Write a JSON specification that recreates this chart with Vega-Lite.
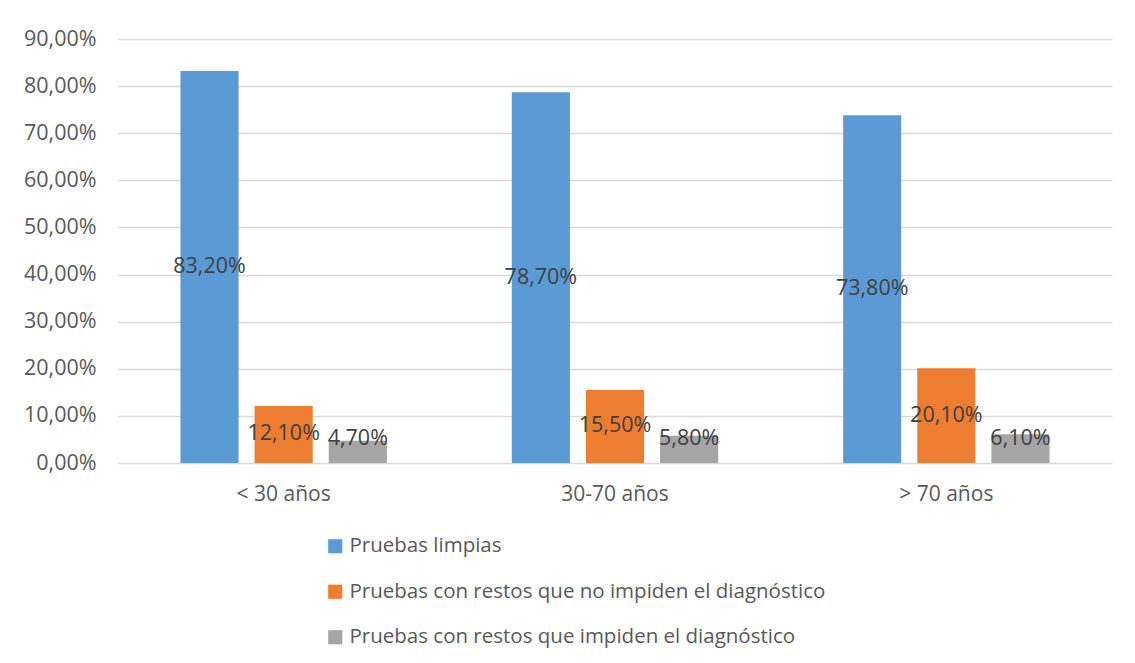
{
  "$schema": "https://vega.github.io/schema/vega-lite/v6.json",
  "autosize": "none",
  "width": 994,
  "height": 424,
  "padding": {"left": 118, "top": 39, "right": 23, "bottom": 200},
  "background": "white",
  "data": {
    "values": [
      {"grupo": "< 30 años", "serie": "Pruebas limpias", "orden": 1, "valor": 83.2},
      {"grupo": "< 30 años", "serie": "Pruebas con restos que no impiden el diagnóstico", "orden": 2, "valor": 12.1},
      {"grupo": "< 30 años", "serie": "Pruebas con restos que impiden el diagnóstico", "orden": 3, "valor": 4.7},
      {"grupo": "30-70 años", "serie": "Pruebas limpias", "orden": 1, "valor": 78.7},
      {"grupo": "30-70 años", "serie": "Pruebas con restos que no impiden el diagnóstico", "orden": 2, "valor": 15.5},
      {"grupo": "30-70 años", "serie": "Pruebas con restos que impiden el diagnóstico", "orden": 3, "valor": 5.8},
      {"grupo": "> 70 años", "serie": "Pruebas limpias", "orden": 1, "valor": 73.8},
      {"grupo": "> 70 años", "serie": "Pruebas con restos que no impiden el diagnóstico", "orden": 2, "valor": 20.1},
      {"grupo": "> 70 años", "serie": "Pruebas con restos que impiden el diagnóstico", "orden": 3, "valor": 6.1}
    ]
  },
  "transform": [
    {"calculate": "max(datum.valor / 2, 5)", "as": "posEtiqueta"},
    {"calculate": "replace(format(datum.valor, '.2f'), '.', ',') + '%'", "as": "etiqueta"}
  ],
  "encoding": {
    "x": {
      "field": "grupo",
      "type": "nominal",
      "sort": ["< 30 años", "30-70 años", "> 70 años"],
      "scale": {"paddingInner": 0.377, "paddingOuter": 0.1885},
      "axis": {
        "title": null,
        "labelAngle": 0,
        "labelFont": "Open Sans",
        "labelFontSize": 21,
        "labelColor": "#595959",
        "labelPadding": 20,
        "ticks": false,
        "domain": false,
        "grid": false
      }
    },
    "xOffset": {
      "field": "serie",
      "type": "nominal",
      "sort": ["Pruebas limpias", "Pruebas con restos que no impiden el diagnóstico", "Pruebas con restos que impiden el diagnóstico"],
      "scale": {"paddingInner": 0.216, "paddingOuter": 0}
    }
  },
  "layer": [
    {
      "mark": {"type": "bar"},
      "encoding": {
        "y": {
          "field": "valor",
          "type": "quantitative",
          "scale": {"domain": [0, 90], "nice": false},
          "axis": {
            "title": null,
            "values": [0, 10, 20, 30, 40, 50, 60, 70, 80, 90],
            "labelExpr": "replace(format(datum.value, '.2f'), '.', ',') + '%'",
            "labelFont": "Open Sans",
            "labelFontSize": 21.5,
            "labelColor": "#595959",
            "labelPadding": 22,
            "ticks": false,
            "domain": false,
            "grid": true,
            "gridColor": "#D9D9D9",
            "gridWidth": 1.5
          }
        },
        "color": {
          "field": "serie",
          "type": "nominal",
          "sort": ["Pruebas limpias", "Pruebas con restos que no impiden el diagnóstico", "Pruebas con restos que impiden el diagnóstico"],
          "scale": {"range": ["#5B9BD5", "#ED7D31", "#A5A5A5"]},
          "legend": {
            "title": null,
            "orient": "none",
            "direction": "vertical",
            "legendX": 207,
            "legendY": 497,
            "symbolType": "square",
            "symbolSize": 200,
            "symbolStrokeWidth": 0,
            "labelFont": "Open Sans",
            "labelFontSize": 20.5,
            "labelColor": "#595959",
            "labelOffset": 4,
            "rowPadding": 24.5,
            "labelLimit": 800
          }
        }
      }
    },
    {
      "mark": {"type": "text", "font": "Open Sans", "fontSize": 21.5, "color": "#404040", "baseline": "middle", "align": "center"},
      "encoding": {
        "y": {"field": "posEtiqueta", "type": "quantitative"},
        "text": {"field": "etiqueta"}
      }
    }
  ],
  "config": {
    "view": {"stroke": null}
  }
}
